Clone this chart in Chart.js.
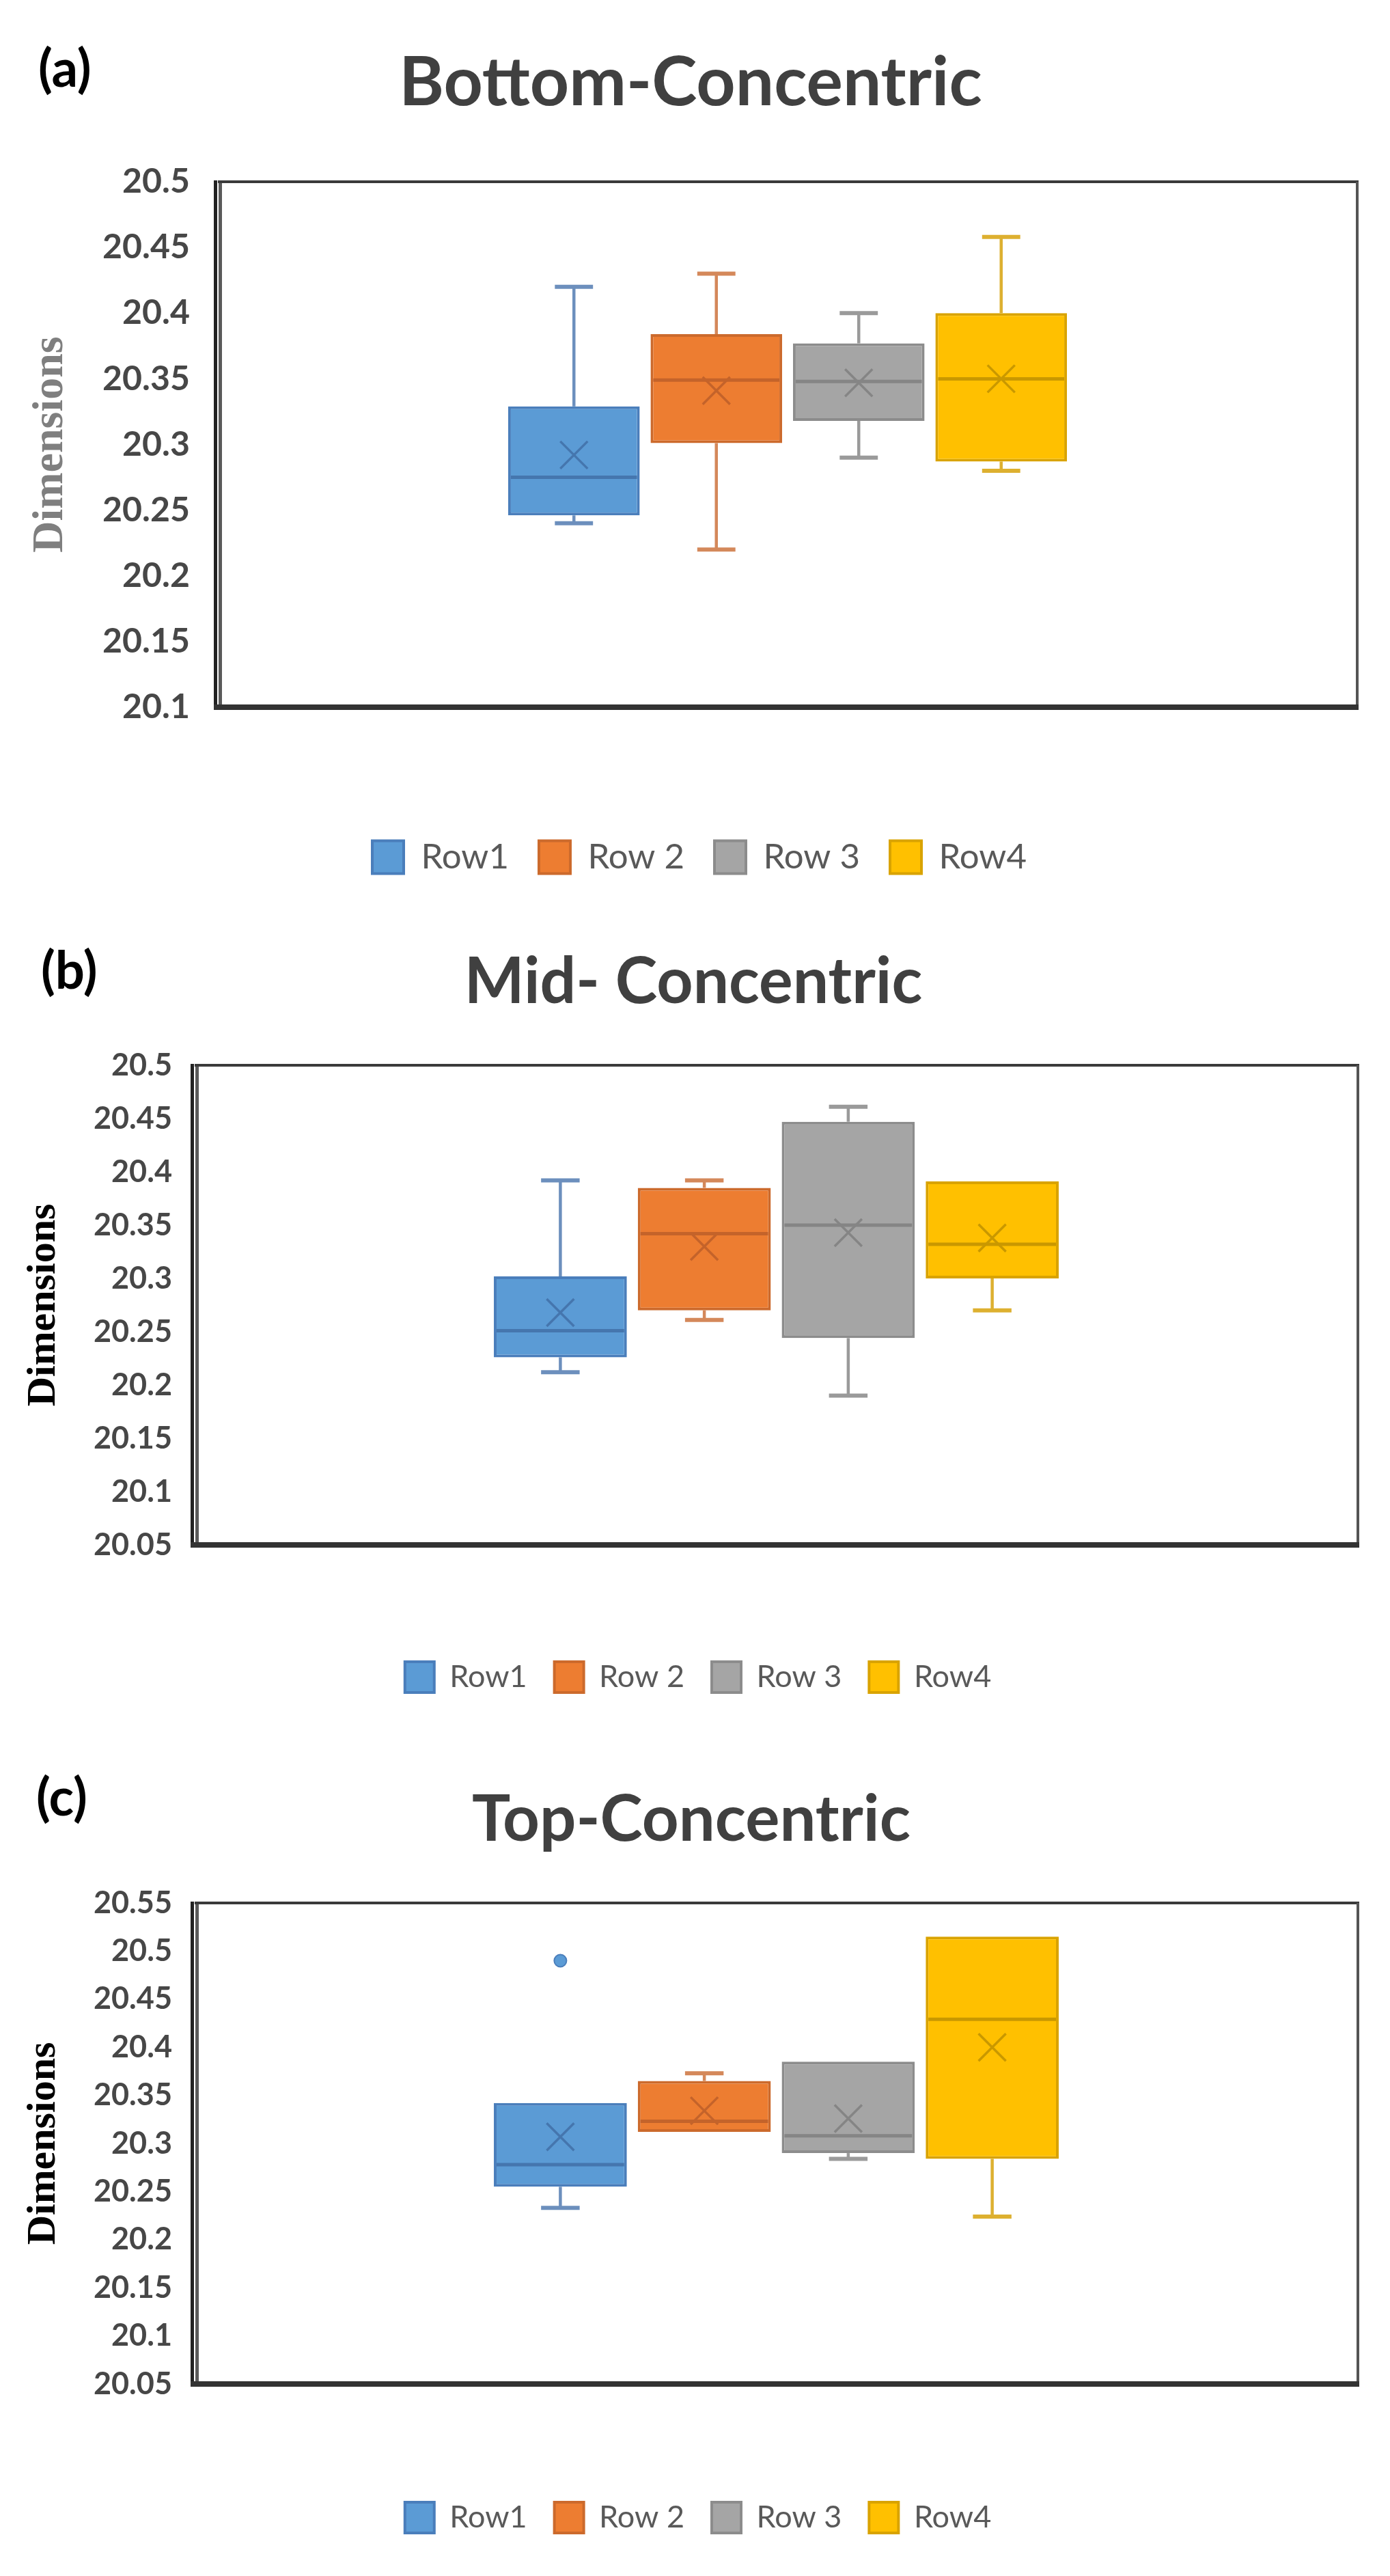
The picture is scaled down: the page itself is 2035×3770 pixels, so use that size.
<!DOCTYPE html>
<html><head><meta charset="utf-8">
<script src="https://cdn.jsdelivr.net/npm/chart.js@4.4.1/dist/chart.umd.min.js"></script>
<style>
html,body{margin:0;padding:0;background:#fff;width:2035px;height:3770px;overflow:hidden;}
.lbl{position:absolute;font-family:Lato,'Noto Sans',sans-serif;font-weight:bold;line-height:1;white-space:nowrap;}
.ttl{transform:translateX(-50%);color:#404040;}
canvas{position:absolute;left:0;}
</style></head><body>
<div class="lbl" style="left:56px;top:60px;font-size:76px;color:#000">(a)</div>
<div class="lbl ttl" style="left:1011px;top:65px;font-size:100px">Bottom-Concentric</div>
<canvas id="cA" width="2035" height="1095" style="top:195px"></canvas>

<div class="lbl" style="left:60px;top:1380px;font-size:76px;color:#000">(b)</div>
<div class="lbl ttl" style="left:1015px;top:1386px;font-size:93px">Mid- Concentric</div>
<canvas id="cB" width="2035" height="988" style="top:1499px"></canvas>

<div class="lbl" style="left:53px;top:2590px;font-size:76px;color:#000">(c)</div>
<div class="lbl ttl" style="left:1012px;top:2611px;font-size:94px">Top-Concentric</div>
<canvas id="cC" width="2035" height="992" style="top:2725px"></canvas>

<script>
// ---------- data ----------
const categories = ['Concentric'];
const rowLabels = ['Row1', 'Row 2', 'Row 3', 'Row4'];

// (a) Bottom-Concentric
const minA  = [20.240, 20.220, 20.290, 20.280];
const q1A   = [20.246, 20.301, 20.318, 20.287];
const medA  = [20.275, 20.349, 20.348, 20.350];
const q3A   = [20.329, 20.384, 20.377, 20.400];
const maxA  = [20.420, 20.430, 20.400, 20.458];
const meanA = [20.292, 20.341, 20.347, 20.350];
const outA  = [[], [], [], []];
const yTicksA = [20.1, 20.15, 20.2, 20.25, 20.3, 20.35, 20.4, 20.45, 20.5];
const yTickLabelsA = ['20.1', '20.15', '20.2', '20.25', '20.3', '20.35', '20.4', '20.45', '20.5'];

// (b) Mid- Concentric
const minB  = [20.212, 20.261, 20.190, 20.270];
const q1B   = [20.226, 20.270, 20.244, 20.300];
const medB  = [20.251, 20.342, 20.350, 20.332];
const q3B   = [20.302, 20.385, 20.447, 20.391];
const maxB  = [20.392, 20.392, 20.461, 20.391];
const meanB = [20.268, 20.330, 20.343, 20.338];
const outB  = [[], [], [], []];
const yTicksB = [20.05, 20.1, 20.15, 20.2, 20.25, 20.3, 20.35, 20.4, 20.45, 20.5];
const yTickLabelsB = ['20.05', '20.1', '20.15', '20.2', '20.25', '20.3', '20.35', '20.4', '20.45', '20.5'];

// (c) Top-Concentric
const minC  = [20.233, 20.312, 20.284, 20.224];
const q1C   = [20.255, 20.312, 20.290, 20.284];
const medC  = [20.278, 20.323, 20.308, 20.429];
const q3C   = [20.342, 20.365, 20.385, 20.515];
const maxC  = [20.342, 20.373, 20.385, 20.515];
const meanC = [20.307, 20.334, 20.326, 20.400];
const outC  = [[20.49], [], [], []];
const yTicksC = [20.05, 20.1, 20.15, 20.2, 20.25, 20.3, 20.35, 20.4, 20.45, 20.5, 20.55];
const yTickLabelsC = ['20.05', '20.1', '20.15', '20.2', '20.25', '20.3', '20.35', '20.4', '20.45', '20.5', '20.55'];

// ---------- style ----------
const fills    = ['#5B9BD5', '#ED7D31', '#A5A5A5', '#FFC000'];
const borders  = ['#4A7EBB', '#CC6A2C', '#8C8C8C', '#D9A300'];
const whiskers = ['#6C8FBD', '#D4885A', '#9A9A9A', '#DDB030'];
const inner    = ['#4576AE', '#C4632A', '#858585', '#C99800'];

function boxPlugin(st) {
  return {
    id: 'boxExtras',
    beforeDatasetsDraw(chart) {
      const ctx = chart.ctx, ys = chart.scales.y;
      chart.data.datasets.forEach((ds, i) => {
        const bar = chart.getDatasetMeta(i).data[0];
        const x = bar.x, w = bar.width, cw = w * 0.29;
        ctx.save();
        ctx.strokeStyle = whiskers[i];
        ctx.lineWidth = 4.5;
        if (st.max[i] > st.q3[i] + 1e-9) {
          const yA = ys.getPixelForValue(st.q3[i]), yB = ys.getPixelForValue(st.max[i]);
          ctx.beginPath(); ctx.moveTo(x, yA); ctx.lineTo(x, yB); ctx.stroke();
          ctx.lineWidth = 6;
          ctx.beginPath(); ctx.moveTo(x - cw / 2, yB); ctx.lineTo(x + cw / 2, yB); ctx.stroke();
          ctx.lineWidth = 4.5;
        }
        if (st.min[i] < st.q1[i] - 1e-9) {
          const yA = ys.getPixelForValue(st.q1[i]), yB = ys.getPixelForValue(st.min[i]);
          ctx.beginPath(); ctx.moveTo(x, yA); ctx.lineTo(x, yB); ctx.stroke();
          ctx.lineWidth = 6;
          ctx.beginPath(); ctx.moveTo(x - cw / 2, yB); ctx.lineTo(x + cw / 2, yB); ctx.stroke();
        }
        ctx.restore();
      });
    },
    afterDatasetsDraw(chart) {
      const ctx = chart.ctx, ys = chart.scales.y;
      chart.data.datasets.forEach((ds, i) => {
        const bar = chart.getDatasetMeta(i).data[0];
        const x = bar.x, w = bar.width;
        ctx.save();
        ctx.strokeStyle = inner[i];
        ctx.lineWidth = 5;
        const ym = ys.getPixelForValue(st.med[i]);
        ctx.beginPath(); ctx.moveTo(x - w / 2 + 4, ym); ctx.lineTo(x + w / 2 - 4, ym); ctx.stroke();
        const yx = ys.getPixelForValue(st.mean[i]), r = 20;
        ctx.lineWidth = 3.5;
        ctx.beginPath();
        ctx.moveTo(x - r, yx - r); ctx.lineTo(x + r, yx + r);
        ctx.moveTo(x + r, yx - r); ctx.lineTo(x - r, yx + r);
        ctx.stroke();
        ctx.fillStyle = fills[i];
        ctx.strokeStyle = borders[i];
        ctx.lineWidth = 2;
        st.out[i].forEach(v => {
          ctx.beginPath(); ctx.arc(x, ys.getPixelForValue(v), 9, 0, Math.PI * 2); ctx.fill(); ctx.stroke();
        });
        ctx.restore();
      });
    },
    afterDraw(chart) {
      const ctx = chart.ctx, a = chart.chartArea;
      ctx.save();
      ctx.lineCap = 'butt';
      ctx.strokeStyle = '#3a3a3a'; ctx.lineWidth = 4;
      ctx.beginPath(); ctx.moveTo(a.left, a.top); ctx.lineTo(a.right + 2, a.top); ctx.stroke();
      ctx.strokeStyle = '#555555';
      ctx.beginPath(); ctx.moveTo(a.right, a.top); ctx.lineTo(a.right, a.bottom); ctx.stroke();
      ctx.strokeStyle = '#222222'; ctx.lineWidth = 5;
      ctx.beginPath(); ctx.moveTo(a.left - 3.5, a.top - 2); ctx.lineTo(a.left - 3.5, a.bottom + 4); ctx.stroke();
      ctx.strokeStyle = '#5a5a5a';
      ctx.beginPath(); ctx.moveTo(a.left + 3.5, a.top + 2); ctx.lineTo(a.left + 3.5, a.bottom); ctx.stroke();
      ctx.strokeStyle = '#333333'; ctx.lineWidth = 8;
      ctx.beginPath(); ctx.moveTo(a.left - 6, a.bottom); ctx.lineTo(a.right + 2, a.bottom); ctx.stroke();
      ctx.restore();
    }
  };
}

function makeChart(id, st, cfg) {
  const datasets = rowLabels.map((lab, i) => ({
    label: lab,
    data: [[st.q1[i], st.q3[i]]],
    backgroundColor: fills[i],
    borderColor: borders[i],
    borderWidth: 4,
    borderSkipped: false,
    categoryPercentage: cfg.catPct,
    barPercentage: 0.924
  }));
  return new Chart(document.getElementById(id), {
    type: 'bar',
    data: { labels: categories, datasets },
    options: {
      responsive: false,
      animation: false,
      devicePixelRatio: 1,
      layout: { padding: { top: 40, right: 2035 - cfg.right, bottom: 0, left: cfg.padL } },
      plugins: {
        tooltip: { enabled: false },
        legend: {
          position: 'bottom',
          labels: {
            boxWidth: cfg.box, boxHeight: cfg.box + 2, padding: cfg.legPad,
            color: '#595959',
            font: { family: 'Lato', size: cfg.legFont }
          }
        }
      },
      scales: {
        x: {
          display: true,
          grid: { display: false, drawTicks: false },
          border: { display: false },
          ticks: { display: false },
          afterFit: s => { s.height = cfg.xH; }
        },
        y: {
          min: st.ticks[0], max: st.ticks[st.ticks.length - 1],
          grid: { display: false, drawTicks: false },
          border: { display: false },
          afterBuildTicks: s => { s.ticks = st.ticks.map(v => ({ value: v })); },
          afterFit: s => { s.width = cfg.yW; },
          ticks: {
            padding: cfg.tickPad,
            color: '#474747',
            font: { family: 'Lato', weight: 'bold', size: cfg.tickFont },
            callback: (v, idx) => st.tickLabels[idx]
          },
          title: {
            display: true,
            text: 'Dimensions',
            color: cfg.titleColor,
            padding: { top: cfg.titlePadTop, bottom: 4 },
            font: { family: "'Liberation Serif', 'DejaVu Serif', serif", weight: 'bold', size: cfg.dimFont }
          }
        }
      }
    },
    plugins: [boxPlugin(st)]
  });
}

makeChart('cA',
  { min: minA, q1: q1A, med: medA, q3: q3A, max: maxA, mean: meanA, out: outA, ticks: yTicksA, tickLabels: yTickLabelsA },
  { padL: 61, yW: 258, right: 1987, xH: 150, box: 46, legPad: 44, legFont: 51, tickFont: 50, tickPad: 41, titleColor: '#7f7f7f', titlePadTop: -25, dimFont: 64, catPct: 0.5 });

makeChart('cB',
  { min: minB, q1: q1B, med: medB, q3: q3B, max: maxB, mean: meanB, out: outB, ticks: yTicksB, tickLabels: yTickLabelsB },
  { padL: 56, yW: 229, right: 1988, xH: 131, box: 43, legPad: 40, legFont: 45, tickFont: 45, tickPad: 33, titleColor: '#000000', titlePadTop: -28, dimFont: 60, catPct: 0.495 });

makeChart('cC',
  { min: minC, q1: q1C, med: medC, q3: q3C, max: maxC, mean: meanC, out: outC, ticks: yTicksC, tickLabels: yTickLabelsC },
  { padL: 56, yW: 229, right: 1988, xH: 133, box: 43, legPad: 40, legFont: 45, tickFont: 45, tickPad: 33, titleColor: '#000000', titlePadTop: -28, dimFont: 60, catPct: 0.495 });
</script>
</body></html>
